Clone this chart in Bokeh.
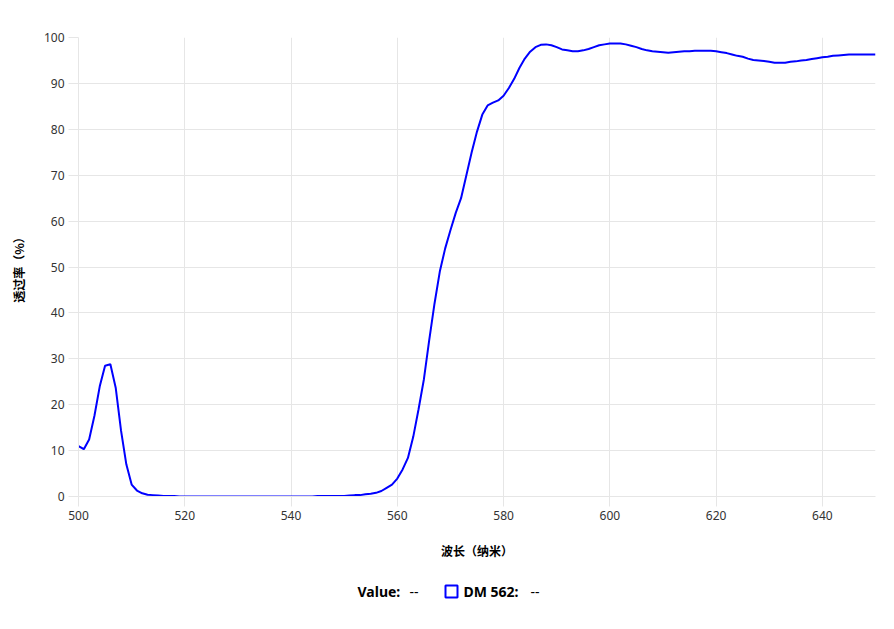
from bokeh.plotting import figure
from bokeh.models import Range1d, FixedTicker, ColumnDataSource
from bokeh.layouts import column
from bokeh.core.properties import value
from bokeh.embed import file_html
from bokeh.resources import INLINE

wavelength = list(range(500, 651))
transmission = [
    11.0, 10.3, 12.4, 17.6, 24.0, 28.5, 28.8, 23.7, 14.4, 7.0,   # 500-509
    2.6, 1.3, 0.7, 0.4, 0.3, 0.2, 0.1, 0.1, 0.1, 0.0,            # 510-519
    0.0, 0.0, 0.0, 0.0, 0.0, 0.0, 0.0, 0.0, 0.0, 0.0,            # 520-529
    0.0, 0.0, 0.0, 0.0, 0.0, 0.0, 0.0, 0.0, 0.0, 0.0,            # 530-539
    0.0, 0.0, 0.0, 0.0, 0.0, 0.1, 0.1, 0.1, 0.1, 0.1,            # 540-549
    0.1, 0.2, 0.3, 0.3, 0.5, 0.6, 0.8, 1.2, 1.9, 2.6,            # 550-559
    3.9, 5.9, 8.4, 13.0, 19.0, 25.5, 34.0, 42.0, 49.0, 54.0,     # 560-569
    58.0, 61.8, 65.0, 70.0, 75.0, 79.5, 83.2, 85.2, 85.8, 86.3,  # 570-579
    87.3, 89.0, 91.0, 93.4, 95.4, 96.9, 97.9, 98.4, 98.5, 98.3,  # 580-589
    97.9, 97.4, 97.2, 97.0, 97.0, 97.2, 97.5, 97.9, 98.3, 98.5,  # 590-599
    98.7, 98.7, 98.7, 98.5, 98.2, 97.9, 97.5, 97.2, 97.0, 96.9,  # 600-609
    96.8, 96.7, 96.8, 96.9, 97.0, 97.0, 97.1, 97.1, 97.1, 97.1,  # 610-619
    97.0, 96.8, 96.6, 96.3, 96.0, 95.8, 95.4, 95.1, 95.0, 94.9,  # 620-629
    94.7, 94.5, 94.5, 94.5, 94.7, 94.8, 95.0, 95.1, 95.3, 95.5,  # 630-639
    95.7, 95.8, 96.0, 96.1, 96.2, 96.3, 96.3, 96.3, 96.3, 96.3,  # 640-649
    96.3,                                                        # 650
]
x_ticks = [500, 520, 540, 560, 580, 600, 620, 640]
y_ticks = [0, 10, 20, 30, 40, 50, 60, 70, 80, 90, 100]
x_title = "波长（纳米）"
y_title = "透过率（%）"
series_name = "DM 562"

GRID = "#e6e6e6"
TICK_FONT = "Noto Sans"
CJK_FONT = "Noto Sans CJK SC"
W = 886
FL, FR = 78, 875

p = figure(width=W, height=568, output_backend="svg", toolbar_location=None,
           x_range=Range1d(500, 650), y_range=Range1d(0, 100),
           min_border_left=FL, min_border_right=W - FR, min_border_top=37,
           min_border_bottom=72)
p.outline_line_color = None
p.background_fill_color = "white"

src = ColumnDataSource(dict(x=wavelength, y=transmission))
p.line("x", "y", source=src, line_color="#0000ff", line_width=2)

p.xaxis.ticker = FixedTicker(ticks=x_ticks)
p.yaxis.ticker = FixedTicker(ticks=y_ticks)
for ax in (p.xaxis[0], p.yaxis[0]):
    ax.axis_line_color = GRID
    ax.major_tick_line_color = GRID
    ax.major_tick_out = 10
    ax.major_tick_in = 0
    ax.minor_tick_line_color = None
    ax.major_label_text_font = TICK_FONT
    ax.major_label_text_font_size = "12px"
    ax.major_label_text_color = "#333333"
    ax.major_label_standoff = 4
    ax.axis_label_text_font = CJK_FONT
    ax.axis_label_text_font_size = "12px"
    ax.axis_label_text_font_style = "bold"
    ax.axis_label_text_color = "#000000"

p.xaxis.axis_label = x_title
p.yaxis.axis_label = y_title
p.xaxis.axis_label_standoff = 19
p.yaxis.axis_label_standoff = 14

p.xgrid.grid_line_color = GRID
p.ygrid.grid_line_color = GRID
p.xgrid.ticker = FixedTicker(ticks=x_ticks)
p.ygrid.ticker = FixedTicker(ticks=y_ticks)

# legend strip (x measured in page pixels)
lg = figure(width=W, height=50, output_backend="svg", toolbar_location=None,
            x_range=Range1d(FL, FR), y_range=Range1d(0, 50),
            min_border_left=FL, min_border_right=W - FR,
            min_border_top=0, min_border_bottom=0)
lg.axis.visible = False
lg.grid.visible = False
lg.outline_line_color = None

lg.text(x=[357], y=[27], text=["Value:"], text_font=value("Noto Sans"),
        text_font_size="14px", text_font_style="bold", text_baseline="middle",
        text_color="#000000")
lg.text(x=[409], y=[27], text=["--"], text_font=value("Noto Sans"),
        text_font_size="14px", text_baseline="middle", text_color="#000000")
lg.scatter(x=[451], y=[27], marker="square", size=12, fill_color=None,
           line_color="#0000ff", line_width=2)
lg.text(x=[463], y=[27], text=[series_name + ":"], text_font=value("Noto Sans"),
        text_font_size="14px", text_font_style="bold", text_baseline="middle",
        text_color="#000000")
lg.text(x=[530], y=[27], text=["--"], text_font=value("Noto Sans"),
        text_font_size="14px", text_baseline="middle", text_color="#000000")

layout = column(p, lg, spacing=0)
open("out.html", "w").write(file_html(layout, INLINE))
